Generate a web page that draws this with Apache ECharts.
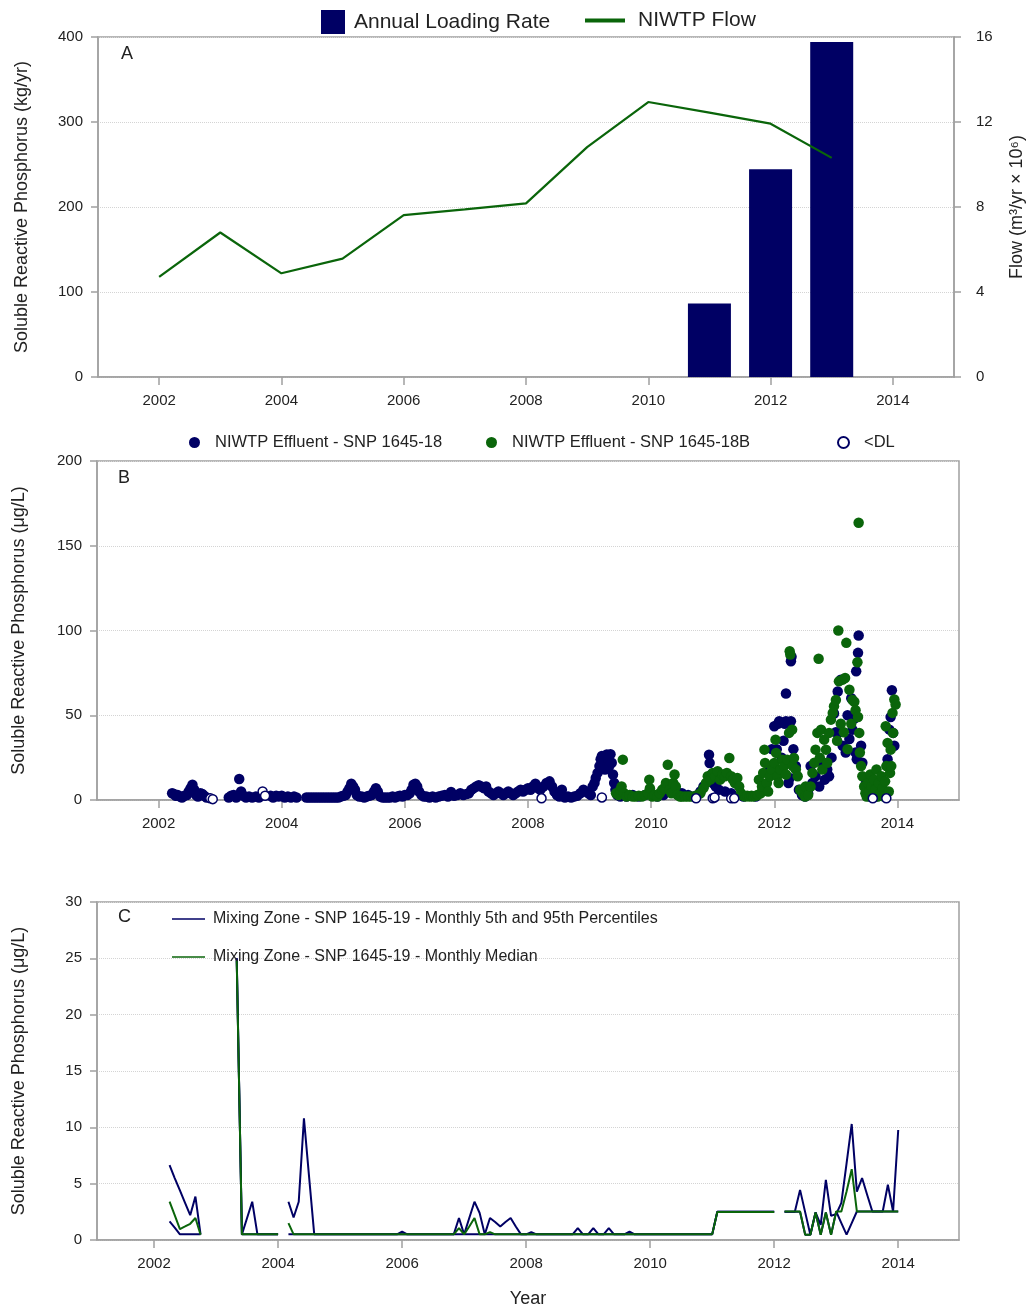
<!DOCTYPE html>
<html><head><meta charset="utf-8">
<script src="https://cdn.jsdelivr.net/npm/echarts@6/dist/echarts.min.js"></script>
<style>html,body{margin:0;padding:0;background:#fff}#c{width:1029px;height:1310px}</style>
</head><body><div id="c"></div>
<script>
// ---------- Panel A ----------
const flowYears = [2002,2003,2004,2005,2006,2007,2008,2009,2010,2011,2012,2013];
const flowValues = [4.71,6.80,4.88,5.57,7.62,7.89,8.17,10.82,12.94,12.44,11.92,10.31];
const loadYears = [2011,2012,2013];
const loadValues = [86.4,244.4,394];
const xTicks = [2002,2004,2006,2008,2010,2012,2014];

// ---------- Panel B ([year, value]) ----------
const effluent18 = [
[2002.22,4],[2002.25,3.5],[2002.28,2.5],[2002.31,3],[2002.35,2],[2002.38,1.5],[2002.42,2.5],[2002.46,3],[2002.49,5],[2002.52,7],[2002.55,9],[2002.58,6],[2002.61,3],[2002.64,2],[2002.68,4],[2002.71,3.5],[2002.74,2.5],[2002.78,1.5],
[2003.14,1.5],[2003.18,2.5],[2003.22,3],[2003.26,1.5],[2003.31,12.4],[2003.34,5],[2003.38,2.5],[2003.42,1.5],[2003.47,2],[2003.52,1.5],[2003.58,2],[2003.63,1.5],[2003.82,2.5],[2003.86,1.5],[2003.91,2.5],[2003.95,2],[2004.0,2.5],[2004.05,1.5],[2004.1,2],[2004.15,1.5],[2004.2,2],[2004.24,1.5],
[2004.40,1.5],[2004.44,1.5],[2004.48,1.5],[2004.52,1.5],[2004.56,1.5],[2004.60,1.5],[2004.64,1.5],[2004.68,1.5],[2004.72,1.5],[2004.76,1.5],[2004.80,1.5],[2004.84,1.5],[2004.88,1.5],[2004.92,1.5],[2004.96,2],
[2005.00,2.5],[2005.04,3],[2005.07,5],[2005.10,7],[2005.13,9.6],[2005.16,8],[2005.19,6],[2005.22,3],[2005.26,2],[2005.30,2],[2005.34,1.5],[2005.38,2],[2005.42,2.5],[2005.46,3],[2005.50,5],[2005.53,7],[2005.56,5],[2005.60,2],[2005.64,1.5],[2005.68,1.5],[2005.72,1.5],[2005.76,1.5],[2005.80,2],[2005.84,1.5],[2005.88,2],[2005.92,2.5],[2005.96,2],
[2006.00,3],[2006.04,3],[2006.08,4],[2006.11,6],[2006.14,9],[2006.17,9.6],[2006.20,8],[2006.23,5],[2006.27,3],[2006.31,2],[2006.35,2],[2006.40,1.5],[2006.45,2],[2006.50,1.5],[2006.55,2],[2006.60,2.5],[2006.65,3],[2006.70,2],[2006.75,4.7],[2006.80,2.5],[2006.85,3],[2006.90,4],[2006.95,3],
[2007.00,3.5],[2007.04,4],[2007.08,6],[2007.12,7],[2007.16,8],[2007.20,8.7],[2007.24,8],[2007.28,7],[2007.32,8],[2007.36,5],[2007.40,4],[2007.44,3],[2007.48,4],[2007.52,5],[2007.56,4],[2007.60,3],[2007.64,4],[2007.68,5],[2007.72,4],[2007.76,3],[2007.80,4],[2007.84,5],[2007.88,6],[2007.92,5],[2007.96,6],
[2008.00,7],[2008.04,6],[2008.08,8],[2008.12,9.6],[2008.16,7],[2008.20,6],[2008.25,8],[2008.30,10],[2008.35,11],[2008.39,8],[2008.43,5],[2008.47,3],[2008.51,2],[2008.55,6],[2008.60,1.5],[2008.65,2],[2008.70,1.5],[2008.75,2],[2008.80,2.5],[2008.85,4],[2008.90,6],[2008.94,5],[2008.98,4],
[2009.02,3],[2009.05,8],[2009.08,10],[2009.10,13],[2009.13,16],[2009.16,20],[2009.18,24],[2009.20,26],[2009.23,22],[2009.25,18],[2009.28,26.8],[2009.30,24],[2009.32,20],[2009.34,27],[2009.36,22],[2009.38,15],[2009.40,10],[2009.42,6],[2009.45,3],[2009.50,2],[2009.55,4],[2009.60,2],[2009.70,3],[2009.80,2],[2009.90,3],
[2010.00,4],[2010.10,2],[2010.20,3],[2010.30,5],[2010.40,6],[2010.50,4],[2010.60,3],[2010.70,2],[2010.80,5],[2010.85,8],[2010.94,26.7],[2010.95,21.8],[2010.98,15],[2011.00,10],[2011.05,8],[2011.10,6],[2011.20,5],[2011.30,4],[2011.50,2],[2011.70,2],[2011.85,8],
[2011.92,19.9],[2011.96,30],[2012.00,43.5],[2012.04,30],[2012.06,45],[2012.08,46.5],[2012.09,16],[2012.12,25],[2012.15,35],[2012.17,45],[2012.19,46.5],[2012.19,62.8],[2012.23,10],[2012.25,13],[2012.27,46.5],[2012.27,81.9],[2012.28,84.5],[2012.31,30],[2012.35,20],[2012.40,6],[2012.45,3],[2012.50,2],[2012.55,4],[2012.59,20],[2012.62,10],[2012.67,14],[2012.73,8],[2012.78,22],[2012.82,12],[2012.86,18],[2012.89,14],[2012.93,25],[2012.97,51],
[2013.00,40],[2013.03,64],[2013.05,40],[2013.08,71],[2013.11,32],[2013.16,28],[2013.19,50],[2013.22,36],[2013.25,60],[2013.27,41.5],[2013.30,48],[2013.32,28],[2013.33,76],[2013.34,24],[2013.36,86.8],[2013.37,97],[2013.41,32],[2013.43,22],[2013.49,10],[2013.51,4],[2013.55,2],[2013.60,5],[2013.65,2],[2013.70,8],[2013.75,3],[2013.81,2],[2013.84,24],[2013.87,41.5],[2013.89,49],[2013.91,64.8],[2013.93,39.6],[2013.95,32]
];
const effluent18B = [
[2009.43,4],[2009.47,3],[2009.50,6],[2009.52,8],[2009.54,23.8],[2009.56,4],[2009.60,2],[2009.65,3],[2009.70,2],[2009.75,2],[2009.80,2.5],[2009.85,2],[2009.90,3],[2009.95,4],[2009.97,12],[2009.98,7],
[2010.02,2],[2010.06,3],[2010.10,2],[2010.14,4],[2010.18,6],[2010.21,7],[2010.24,10],[2010.27,20.8],[2010.30,6],[2010.33,4],[2010.36,10],[2010.38,15],[2010.40,8],[2010.43,3],[2010.47,2],[2010.50,2],[2010.55,2],[2010.60,2],[2010.65,2],[2010.70,2],[2010.75,3],[2010.80,4],[2010.85,7],[2010.89,10],[2010.92,14],[2010.96,12],
[2011.00,16],[2011.04,14],[2011.08,17],[2011.12,12],[2011.16,15],[2011.20,14],[2011.23,16],[2011.27,24.8],[2011.30,14],[2011.33,12],[2011.36,10],[2011.40,13],[2011.43,8],[2011.46,4],[2011.50,2.5],[2011.53,2],[2011.56,2.5],[2011.60,2],[2011.63,2.5],[2011.66,2],[2011.70,2.5],[2011.73,3],[2011.75,12],[2011.78,4],[2011.80,8],[2011.82,16],[2011.84,29.7],[2011.85,21.9],[2011.88,10],[2011.90,5],[2011.93,14],[2011.96,18],
[2012.00,21.9],[2012.02,35.6],[2012.03,27.8],[2012.05,14],[2012.07,10],[2012.10,18],[2012.13,23.8],[2012.16,20],[2012.19,15],[2012.21,23.8],[2012.24,39.6],[2012.25,87.8],[2012.26,85.8],[2012.29,41.5],[2012.30,20],[2012.32,24.8],[2012.35,18],[2012.38,14],[2012.42,6],[2012.46,4],[2012.50,2],[2012.51,8],[2012.55,3],[2012.59,8],[2012.62,16],[2012.65,22],[2012.67,29.7],[2012.70,39.6],[2012.72,83.3],[2012.74,25],[2012.76,41.5],[2012.78,18],[2012.81,35.6],[2012.84,29.7],[2012.86,22],[2012.89,39.6],[2012.92,47.4],[2012.95,51.4],[2012.97,55.3],
[2013.00,59],[2013.02,35],[2013.04,100],[2013.05,70],[2013.08,45],[2013.11,71],[2013.13,40],[2013.15,72],[2013.17,92.7],[2013.19,30],[2013.22,65],[2013.25,45],[2013.27,59],[2013.30,58],[2013.32,53],[2013.35,81.3],[2013.37,163.6],[2013.36,49],[2013.38,39.6],[2013.39,28],[2013.41,20],[2013.43,14],[2013.46,8],[2013.48,4],[2013.50,2],[2013.52,10],[2013.54,5],[2013.56,15],[2013.58,8],[2013.60,3],[2013.62,12],[2013.64,6],[2013.66,18],[2013.68,2],[2013.70,10],[2013.72,4],[2013.74,14],[2013.76,7],[2013.78,2],[2013.80,11],[2013.81,43.5],[2013.82,20],[2013.84,33.7],[2013.86,5],[2013.88,16],[2013.89,29.7],[2013.90,20],[2013.92,51.4],[2013.93,39.6],[2013.95,59.3],[2013.97,56.3]
];
const belowDL = [[2002.84,1],[2002.88,0.5],[2003.69,5],[2003.73,2.5],[2008.22,1],[2009.20,1.5],[2010.73,1],[2011.00,1],[2011.03,1.5],[2011.30,1],[2011.35,1],[2013.60,1],[2013.82,1]];

// ---------- Panel C ([year, value], '-' = gap) ----------
const mixP95 = [
[2002.25,6.65],[2002.333,5.5],[2002.417,4.4],[2002.5,3.3],[2002.583,2.2],[2002.667,3.85],[2002.75,0.5],[2002.833,'-'],
[2003.333,25],[2003.417,0.5],[2003.5,1.95],[2003.583,3.4],[2003.667,0.5],[2004.0,0.5],[2004.083,'-'],
[2004.167,3.4],[2004.25,2.0],[2004.333,3.4],[2004.417,10.8],[2004.5,5.6],[2004.583,0.5],[2005.917,0.5],[2006.0,0.75],[2006.083,0.5],
[2006.833,0.5],[2006.917,1.95],[2007.0,0.5],[2007.083,1.95],[2007.167,3.4],[2007.25,2.4],[2007.333,0.5],[2007.417,1.95],[2007.5,1.6],[2007.583,1.2],[2007.667,1.6],[2007.75,1.95],[2007.833,1.2],[2007.917,0.5],
[2008.0,0.5],[2008.083,0.7],[2008.167,0.5],[2008.75,0.5],[2008.833,1.06],[2008.917,0.5],[2009.0,0.5],[2009.083,1.06],[2009.167,0.5],[2009.25,0.5],[2009.333,1.06],[2009.417,0.5],[2009.583,0.5],[2009.667,0.75],[2009.75,0.5],
[2011.0,0.5],[2011.083,2.5],[2012.0,2.5],[2012.083,'-'],
[2012.167,2.5],[2012.333,2.5],[2012.417,4.45],[2012.5,2.45],[2012.583,0.47],[2012.667,2.44],[2012.75,1.35],[2012.833,5.34],[2012.917,2.15],[2013.0,2.3],[2013.083,3.3],[2013.167,6.8],[2013.25,10.3],[2013.333,4.3],[2013.417,5.5],[2013.5,4.0],[2013.583,2.53],[2013.75,2.53],[2013.833,4.9],[2013.917,2.53],[2014.0,9.76]
];
const mixP5 = [
[2002.25,1.65],[2002.333,1.1],[2002.417,0.5],[2002.75,0.5],[2002.833,'-'],
[2003.333,25],[2003.417,0.5],[2004.0,0.5],[2004.083,'-'],
[2004.167,0.5],[2011.0,0.5],[2011.083,2.5],[2012.0,2.5],[2012.083,'-'],
[2012.167,2.5],[2012.417,2.5],[2012.5,0.47],[2012.583,0.47],[2012.667,2.44],[2012.75,0.47],[2012.833,2.44],[2012.917,0.47],[2013.0,2.53],[2013.083,1.5],[2013.167,0.47],[2013.25,1.5],[2013.333,2.53],[2014.0,2.53]
];
const mixMedian = [
[2002.25,3.4],[2002.333,2.2],[2002.417,0.97],[2002.5,1.2],[2002.583,1.44],[2002.667,1.95],[2002.75,0.47],[2002.833,'-'],
[2003.333,24.8],[2003.417,0.5],[2004.0,0.5],[2004.083,'-'],
[2004.167,1.5],[2004.25,0.5],[2006.833,0.5],[2006.917,1.06],[2007.0,0.5],[2007.083,1.2],[2007.167,1.95],[2007.25,0.5],[2007.333,0.5],[2007.417,0.7],[2007.5,0.5],
[2011.0,0.5],[2011.083,2.48],[2012.0,2.48],[2012.083,'-'],
[2012.167,2.53],[2012.417,2.53],[2012.5,0.47],[2012.583,0.47],[2012.667,2.44],[2012.75,0.47],[2012.833,2.44],[2012.917,0.47],[2013.0,2.53],[2013.083,2.53],[2013.167,4.3],[2013.25,6.28],[2013.333,2.53],[2014.0,2.53]
];

const NAVY = '#000064', GREEN = '#0a650a', AX = '#a0a0a0', TXT = '#222';
const FONT = '"Liberation Sans", Arial, sans-serif';
const S18 = 'NIWTP Effluent - SNP 1645-18', S18B = 'NIWTP Effluent - SNP 1645-18B', SDL = '<DL';
const SP = 'Mixing Zone - SNP 1645-19 - Monthly 5th and 95th Percentiles', SM = 'Mixing Zone - SNP 1645-19 - Monthly Median';
const THICK_LINE_ICON = 'path://M0,0 L100,0 L100,10 L0,10 Z';
const THIN_LINE_ICON = 'path://M0,0 L220,0 L220,10 L0,10 Z';

function xAx(grid, min, max, extra) {
  return Object.assign({
    type: 'value', gridIndex: grid, min: min, max: max,
    axisLine: {show: true, onZero: false, lineStyle: {color: AX, width: 1.5}},
    axisTick: {show: true, length: 8, customValues: xTicks, lineStyle: {color: AX, width: 1.5}},
    axisLabel: {customValues: xTicks, formatter: v => String(v), color: TXT, fontSize: 15, margin: 16, fontFamily: FONT},
    splitLine: {show: false}
  }, extra || {});
}
function yAx(grid, min, max, interval, name, gap, extra) {
  return Object.assign({
    type: 'value', gridIndex: grid, min: min, max: max, interval: interval,
    name: name, nameLocation: 'middle', nameGap: gap,
    nameTextStyle: {fontSize: 18, color: TXT, fontFamily: FONT},
    axisLine: {show: true, lineStyle: {color: AX, width: 1.5}},
    axisTick: {show: true, length: 7, lineStyle: {color: AX, width: 1.5}},
    axisLabel: {color: TXT, fontSize: 15, margin: 15, fontFamily: FONT},
    splitLine: {show: true, lineStyle: {color: '#d4d4d4', type: 'dotted', width: 1}}
  }, extra || {});
}

const chart = echarts.init(document.getElementById('c'), null, {renderer: 'canvas'});
chart.setOption({
  animation: false,
  backgroundColor: '#fff',
  textStyle: {fontFamily: FONT},
  grid: [
    {left: 98, right: 75, top: 37, height: 340, show: true, borderColor: AX, borderWidth: 1.5, outerBoundsMode: 'none', containLabel: false},
    {left: 97, right: 70, top: 461, height: 339, show: true, borderColor: AX, borderWidth: 1.5, outerBoundsMode: 'none', containLabel: false},
    {left: 97, right: 70, top: 902, height: 338, show: true, borderColor: AX, borderWidth: 1.5, outerBoundsMode: 'none', containLabel: false}
  ],
  xAxis: [
    xAx(0, 2001, 2015),
    xAx(1, 2001, 2015),
    xAx(2, 2001.08, 2014.98, {name: 'Year', nameLocation: 'middle', nameGap: 50, nameTextStyle: {fontSize: 18, color: TXT, fontFamily: FONT}})
  ],
  yAxis: [
    yAx(0, 0, 400, 100, 'Soluble Reactive Phosphorus (kg/yr)', 67),
    yAx(0, 0, 16, 4, 'Flow (m³/yr × 10⁶)', 54, {position: 'right', splitLine: {show: false},
      axisLabel: {color: TXT, fontSize: 15, margin: 22, fontFamily: FONT}}),
    yAx(1, 0, 200, 50, 'Soluble Reactive Phosphorus (μg/L)', 69),
    yAx(2, 0, 30, 5, 'Soluble Reactive Phosphorus (μg/L)', 69)
  ],
  legend: [
    {data: ['Annual Loading Rate'], left: 316, top: 5, icon: 'rect', itemWidth: 24, itemHeight: 24, textStyle: {fontSize: 21, color: TXT, fontFamily: FONT, padding: [0,0,0,4]}},
    {data: [{name: 'NIWTP Flow', icon: THICK_LINE_ICON}], left: 580, top: 5, itemWidth: 40, itemHeight: 24, textStyle: {fontSize: 21, color: TXT, fontFamily: FONT, padding: [0,0,0,8]}},
    {data: [S18], left: 184, top: 429, icon: 'circle', itemWidth: 11, itemHeight: 11, textStyle: {fontSize: 16.5, color: TXT, fontFamily: FONT, padding: [0,0,0,10]}},
    {data: [S18B], left: 481, top: 429, icon: 'circle', itemWidth: 11, itemHeight: 11, textStyle: {fontSize: 16.5, color: TXT, fontFamily: FONT, padding: [0,0,0,10]}},
    {data: [SDL], left: 832, top: 429, icon: 'circle', itemWidth: 11, itemHeight: 11, textStyle: {fontSize: 16.5, color: TXT, fontFamily: FONT, padding: [0,0,0,10]}},
    {data: [{name: SP, icon: THIN_LINE_ICON}, {name: SM, icon: THIN_LINE_ICON}], orient: 'vertical', left: 167, top: 906, itemGap: 22, itemWidth: 33, itemHeight: 18,
     textStyle: {fontSize: 16, color: TXT, fontFamily: FONT, padding: [0,0,0,3]}}
  ],
  graphic: [
    {type: 'text', left: 121, top: 45, style: {text: 'A', fontSize: 18, fill: TXT, fontFamily: FONT}},
    {type: 'text', left: 118, top: 469, style: {text: 'B', fontSize: 18, fill: TXT, fontFamily: FONT}},
    {type: 'text', left: 118, top: 908, style: {text: 'C', fontSize: 18, fill: TXT, fontFamily: FONT}}
  ],
  series: [
    {name: 'Annual Loading Rate', type: 'bar', xAxisIndex: 0, yAxisIndex: 0, barWidth: 43,
     itemStyle: {color: NAVY}, data: loadYears.map((y, i) => [y, loadValues[i]])},
    {name: 'NIWTP Flow', type: 'line', xAxisIndex: 0, yAxisIndex: 1, symbol: 'none',
     lineStyle: {color: GREEN, width: 2.2}, itemStyle: {color: GREEN}, data: flowYears.map((y, i) => [y, flowValues[i]])},

    {name: S18, type: 'scatter', xAxisIndex: 1, yAxisIndex: 2, symbolSize: 10.5, itemStyle: {color: NAVY, opacity: 1}, data: effluent18},
    {name: S18B, type: 'scatter', xAxisIndex: 1, yAxisIndex: 2, symbolSize: 10.5, itemStyle: {color: GREEN, opacity: 1}, data: effluent18B},
    {name: SDL, type: 'scatter', xAxisIndex: 1, yAxisIndex: 2, symbolSize: 9, itemStyle: {color: '#fff', borderColor: NAVY, borderWidth: 1.5, opacity: 1}, data: belowDL},

    {name: SP, type: 'line', xAxisIndex: 2, yAxisIndex: 3, symbol: 'none', connectNulls: false,
     lineStyle: {color: NAVY, width: 2}, itemStyle: {color: NAVY}, data: mixP95},
    {name: SP, type: 'line', xAxisIndex: 2, yAxisIndex: 3, symbol: 'none', connectNulls: false,
     lineStyle: {color: NAVY, width: 2}, itemStyle: {color: NAVY}, data: mixP5},
    {name: SM, type: 'line', xAxisIndex: 2, yAxisIndex: 3, symbol: 'none', connectNulls: false,
     lineStyle: {color: GREEN, width: 2}, itemStyle: {color: GREEN}, data: mixMedian}
  ]
});
</script></body></html>
